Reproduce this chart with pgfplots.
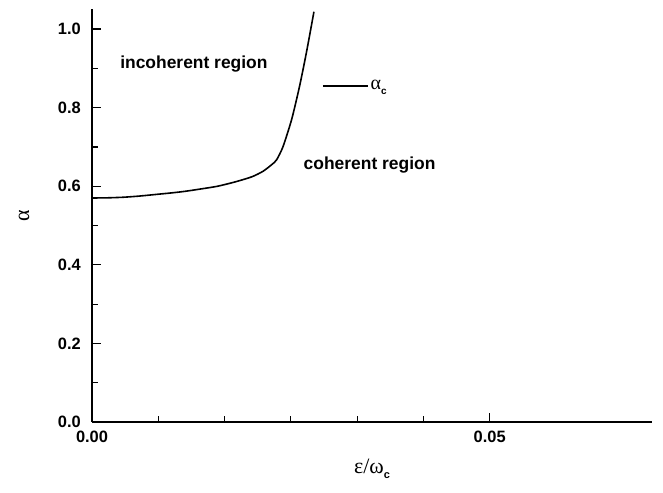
\documentclass[border=0pt]{standalone}
\usepackage{fontspec}
\setmainfont{Liberation Sans}
\newfontfamily\greek{Liberation Serif}
\usepackage{pgfplots}
\pgfplotsset{compat=1.18}
\begin{document}
\begin{tikzpicture}[x=1bp,y=1bp]
\useasboundingbox (0,0) rectangle (663,493);
\begin{axis}[
  at={(92bp,71bp)}, anchor=south west,
  scale only axis, width=560bp, height=413bp,
  xmin=0, xmax=0.0704, ymin=0, ymax=1.051,
  axis lines*=left,
  axis line style={line width=1.5bp, black},
  tick align=inside,
  major tick length=9bp, minor tick length=6bp,
  every tick/.style={line width=1.2bp, black},
  scaled x ticks=false, scaled y ticks=false,
  xtick={0,0.05}, xticklabels={0.00,0.05},
  minor x tick num=5,
  ytick={0,0.2,0.4,0.6,0.8,1.0}, yticklabels={0.0,0.2,0.4,0.6,0.8,1.0},
  minor y tick num=1,
  tick label style={font=\bfseries\fontsize{16.5}{18}\selectfont},
  xticklabel style={inner sep=0pt, anchor=north, yshift=-9bp},
  yticklabel style={inner sep=0pt, anchor=east, xshift=-11bp},
  xlabel={{\greek ε/ω}\raisebox{-5bp}{\bfseries\fontsize{11}{12}\selectfont c}},
  xlabel style={font=\fontsize{22}{24}\selectfont, at={(axis description cs:0.5,0)}, anchor=base, yshift=-52bp},
  ylabel={{\greek α}},
  ylabel style={font=\fontsize{22}{24}\selectfont, at={(axis description cs:-0.1214,0.5)}, anchor=center},
  legend style={draw=none, fill=none, at={(axis cs:0.02889,0.855)}, anchor=west, inner sep=0pt, nodes={inner sep=2bp}},
  legend cell align=left,
  legend image code/.code={\draw[#1] (0bp,0bp) -- (45bp,0bp);},
  clip=false,
]
\addplot[black, line width=1.6bp, smooth, tension=0.4] coordinates {
(0,0.570) (0.002,0.5705) (0.004,0.572) (0.006,0.575) (0.008,0.579)
(0.010,0.583) (0.0117,0.587) (0.014,0.594) (0.0158,0.600) (0.018,0.611)
(0.0201,0.624) (0.0215,0.638) (0.0226,0.655) (0.0232,0.667) (0.0240,0.700)
(0.0251,0.770) (0.0261,0.855) (0.0270,0.945) (0.0279,1.044)
};
\addlegendentry{{\fontsize{20}{22}\selectfont\greek α}\raisebox{-5bp}{\bfseries\fontsize{10}{12}\selectfont c}}
\node[font=\bfseries\fontsize{17.5}{20}\selectfont] at (axis cs:0.01281,0.911) {incoherent region};
\node[font=\bfseries\fontsize{17.5}{20}\selectfont] at (axis cs:0.0349,0.654) {coherent region};
\end{axis}
\end{tikzpicture}
\end{document}
